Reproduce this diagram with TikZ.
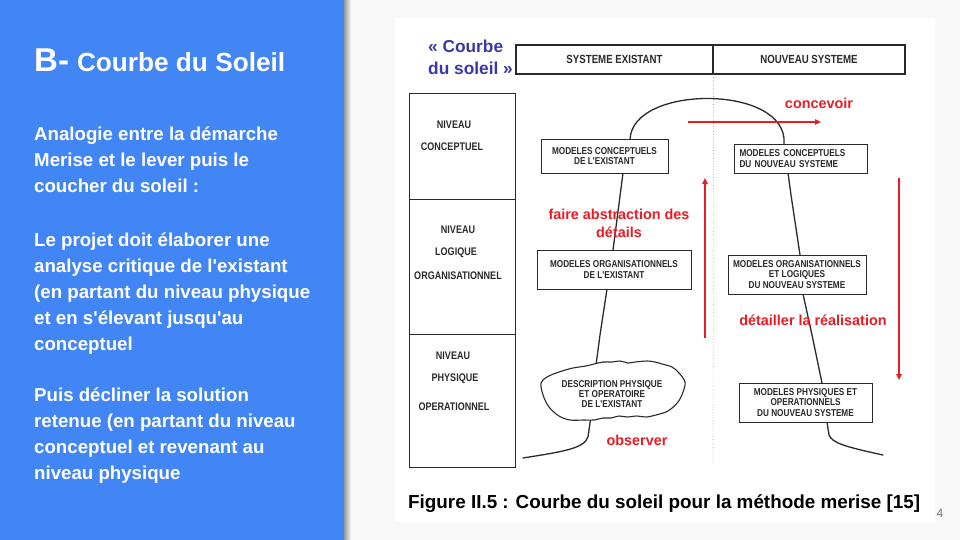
\documentclass[tikz,border=0pt]{standalone}
\usepackage{fontspec}
\setmainfont{Liberation Sans}[Ligatures=TeXOff]
\newfontfamily\narrowfont{Liberation Sans}[FakeStretch=0.82,Ligatures=TeXOff]
\usetikzlibrary{arrows.meta}
\definecolor{panelblue}{HTML}{4285F4}
\definecolor{slidebg}{HTML}{F8F8F8}
\definecolor{sunred}{RGB}{232,28,36}
\definecolor{titleblue}{RGB}{58,56,168}
\definecolor{ink}{HTML}{2A2A2A}
\definecolor{pagegray}{HTML}{757575}

\begin{document}
\begin{tikzpicture}[x=1pt,y=-1pt,
  body/.style={anchor=base west, text=white, inner sep=0,
    font=\bfseries\fontsize{18.67}{22}\selectfont},
  mbox/.style={draw=ink, line width=0.9pt, fill=white, inner sep=0,
    align=center, text=ink, font=\narrowfont\bfseries\fontsize{10}{10.8}\selectfont},
  hbox/.style={draw=ink, line width=1.1pt, inner sep=0, text=ink,
    font=\narrowfont\bfseries\fontsize{11.8}{12}\selectfont},
  lvlbox/.style={draw=ink, line width=1pt, inner sep=0, minimum width=106pt},
  lvl/.style={inner sep=0, text=ink, font=\narrowfont\bfseries\fontsize{11}{11}\selectfont},
  redtxt/.style={inner sep=0, text=sunred, align=center,
    font=\bfseries\fontsize{14.4}{18}\selectfont},
  redarrow/.style={draw=sunred, line width=1.8pt, -{Triangle[length=6pt,width=5.5pt]}},
  sun/.style={draw=ink, line width=1.3pt, line join=round, line cap=round},
]
\useasboundingbox (0,0) rectangle (960,540);

% slide background, side panel and its shadow
\fill[slidebg] (0,0) rectangle (960,540);
\shade[left color=black!40, right color=slidebg] (344,0) rectangle (351,540);
\fill[panelblue] (0,0) rectangle (344,540);

% side panel text
\node[anchor=base west, inner sep=0, text=white, font=\bfseries] (title) at (34,72)
  {{\fontsize{33}{38}\selectfont B-}\hspace{8pt}{\fontsize{26.2}{30}\selectfont Courbe du Soleil}};
\foreach \yy/\txt [count=\i] in {
  141/{Analogie entre la démarche},
  167/{Merise et le lever puis le},
  193/{coucher du soleil :},
  246/{Le projet doit élaborer une},
  272/{analyse critique de l'existant},
  298/{(en partant du niveau physique},
  324/{et en s'élevant jusqu'au},
  350/{conceptuel},
  401/{Puis décliner la solution},
  427/{retenue (en partant du niveau},
  453/{conceptuel et revenant au},
  479/{niveau physique}}
  \node[body] (line\i) at (34,\yy) {\txt};

% figure sheet
\fill[white] (395,18) rectangle (935,522);

% figure title
\node[anchor=west, inner sep=0, text=titleblue, align=left,
  font=\bfseries\fontsize{17.3}{22}\selectfont] (ftitle) at (428,57)
  {« Courbe\\du soleil »};

% column headers
\node[hbox, minimum width=197pt, minimum height=29pt] (hex) at (614.5,59.5) {SYSTEME  EXISTANT};
\node[hbox, minimum width=192pt, minimum height=29pt] (hnew) at (809,59.5) {NOUVEAU  SYSTEME};

% separation between existing and new system
\draw[gray!70, line width=0.7pt, dotted] (hex.south east) -- (713,466);

% level column
\node[lvlbox, minimum height=105pt] (lc) at (462,146.5) {};
\node[lvlbox, minimum height=135pt] (ll) at (462,266.5) {};
\node[lvlbox, minimum height=133pt] (lp) at (462,400.5) {};
\node[lvl] (lc1) at (454,125) {NIVEAU};
\node[lvl] (lc2) at (452,147) {CONCEPTUEL};
\node[lvl] (ll1) at (458,230) {NIVEAU};
\node[lvl] (ll2) at (456,253) {LOGIQUE};
\node[lvl] (ll3) at (458,276) {ORGANISATIONNEL};
\node[lvl] (lp1) at (453,356) {NIVEAU};
\node[lvl] (lp2) at (455,379) {PHYSIQUE};
\node[lvl] (lp3) at (454,407) {OPERATIONNEL};

% the sun curve, drawn first so that the boxes hide it where it crosses them
\draw[sun] (523,458) .. controls (560,452) and (584,449) .. (588,437)
  -- (591,416) -- (596,365) -- (600,335) -- (607,289) -- (613,250)
  -- (623,173) -- (630,140)
  .. controls (631,84) and (789,84) .. (784,144)
  -- (788,173) -- (791,195) -- (800,255) -- (803,294) -- (812,335)
  -- (822,383) -- (827,422) -- (829,435)
  .. controls (832,443) and (846,447) .. (883,455);

% cloud around the physical description of the existing system
\draw[draw=ink, line width=1.1pt, fill=white] plot[smooth cycle, tension=0.55] coordinates {
  (541,383) (547,377) (556,373) (562,371) (573,368) (586,366) (594,364)
  (603,362) (612,362) (620,361) (628,363) (635,362) (647,361) (655,362)
  (662,364) (672,367) (679,373) (685,382) (683,392) (678,402) (668,411)
  (656,415) (646,417) (637,416) (627,417) (619,416) (611,418) (603,418)
  (594,420) (584,420) (570,420) (559,416) (549,407) (543,395)};
\node[inner sep=0, align=center, text=ink,
  font=\narrowfont\bfseries\fontsize{10}{10}\selectfont] (pe) at (612,394)
  {DESCRIPTION PHYSIQUE\\ET OPERATOIRE\\DE L'EXISTANT};

% model boxes
\node[mbox, minimum width=127pt, minimum height=34pt] (ce) at (604.5,156)
  {MODELES CONCEPTUELS\\DE L'EXISTANT};
\node[mbox, minimum width=133pt, minimum height=29pt, text width=122pt, align=left] (cn) at (800.5,158.5)
  {MODELES CONCEPTUELS\\DU NOUVEAU SYSTEME};
\node[mbox, minimum width=154pt, minimum height=39pt] (oe) at (614,269.5)
  {MODELES  ORGANISATIONNELS\\DE L'EXISTANT};
\node[mbox, minimum width=138pt, minimum height=39pt] (on) at (797,274.5)
  {MODELES  ORGANISATIONNELS\\ET LOGIQUES\\DU NOUVEAU SYSTEME};
\node[mbox, minimum width=133pt, minimum height=39pt] (pn) at (805.5,402.5)
  {MODELES PHYSIQUES ET\\OPERATIONNELS\\DU NOUVEAU SYSTEME};

% red process arrows and their labels
\coordinate (concA) at (688,122);
\coordinate (concB) at (821,122);
\coordinate (upA) at (705,338);
\coordinate (upB) at (705,178);
\coordinate (downA) at (899,178);
\coordinate (downB) at (899,380);
\draw[redarrow] (concA) -- (concB);
\draw[redarrow] (upA) -- (upB);
\draw[redarrow] (downA) -- (downB);
\node[redtxt] (tconc) at (819,103) {concevoir};
\node[redtxt] (tabs) at (619,223) {faire abstraction des\\détails};
\node[redtxt] (tdet) at (813,320) {détailler la réalisation};
\node[redtxt] (tobs) at (637,440) {observer};

% caption
\node[anchor=base west, inner sep=0, text=black,
  font=\bfseries\fontsize{18.85}{22}\selectfont] (caption) at (408,508)
  {Figure II.5 : Courbe du soleil pour la méthode merise [15]};

% slide number
\node[inner sep=0, text=pagegray, font=\fontsize{12}{12}\selectfont] (pg) at (940,513) {4};
\end{tikzpicture}
\end{document}
